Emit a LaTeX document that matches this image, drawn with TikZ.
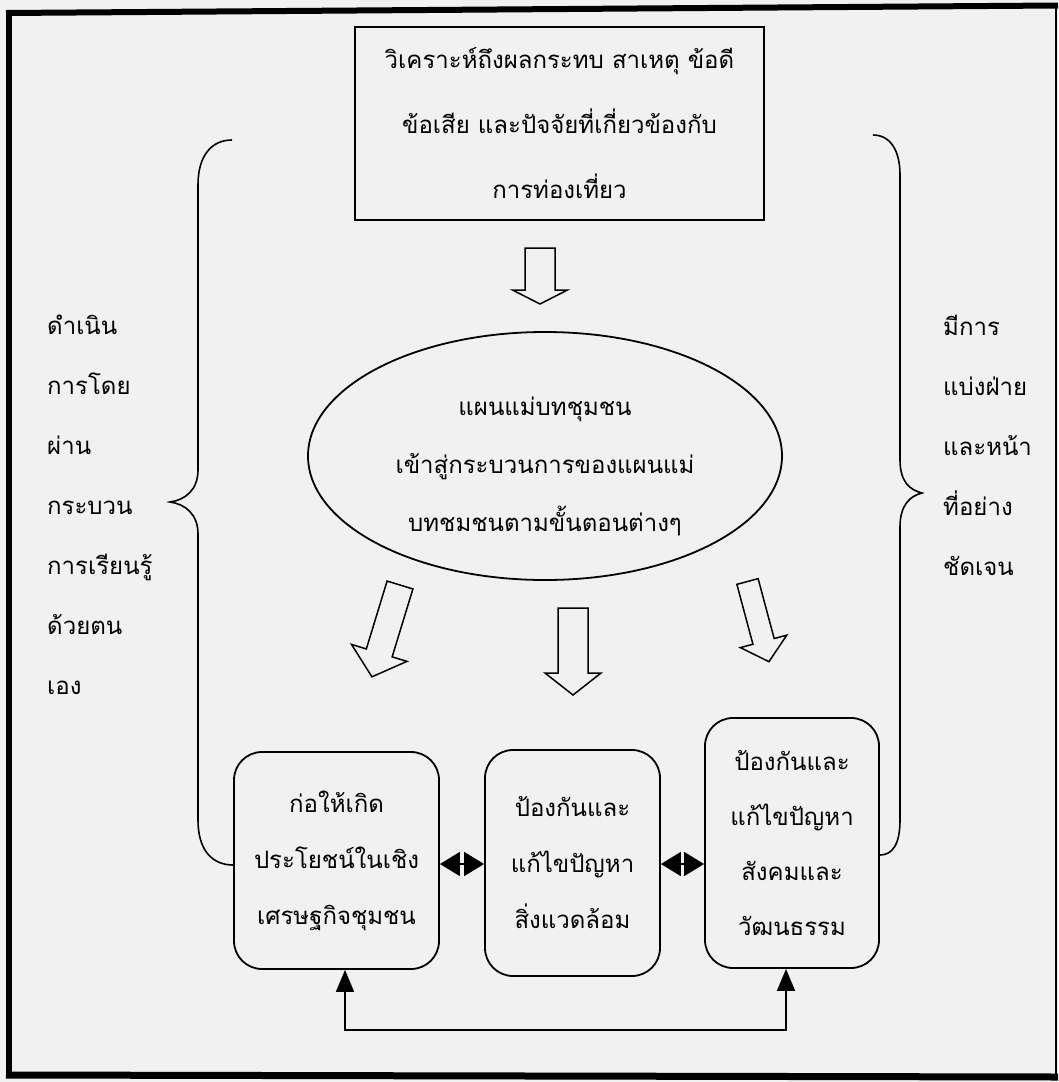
\documentclass[tikz,border=0pt]{standalone}
\usepackage{fontspec}
\newfontfamily\thaifont[Script=Thai]{Loma}
\usetikzlibrary{arrows.meta,shapes.geometric}
\definecolor{bgc}{RGB}{241,241,241}
\begin{document}
\begin{tikzpicture}[x=1pt,y=-1pt,
  box/.style={draw,line width=1.8pt,align=center,inner sep=0pt},
  tf/.style={font=\thaifont\fontsize{24}{#1}\selectfont},
  hollow/.style={draw,line width=1.5pt,line join=miter,fill=bgc},
  brace/.style={draw,line width=1.6pt},
  dbl/.style={line width=1.6pt,{Triangle[width=24pt,length=20pt]}-{Triangle[width=24pt,length=20pt]}},
  feedback/.style={line width=1.8pt,{Triangle[width=18pt,length=22pt]}-{Triangle[width=18pt,length=22pt]}}]
\useasboundingbox (0,0) rectangle (1058,1082);
\fill[bgc] (0,0) rectangle (1058,1082);
% frame
\draw[line width=6pt] (9,1078) -- (9,10);
\draw[line width=6pt] (6,13) -- (1058,5.5);
\draw[line width=2pt] (1056,6) -- (1056,1076);
\draw[line width=7pt] (6,1075) -- (1058,1077);
% top box
\node[box,tf=65,minimum width=409pt,minimum height=193pt] (top) at (559.5,123.5)
  {วิเคราะห์ถึงผลกระทบ สาเหตุ ข้อดี\\ข้อเสีย และปัจจัยที่เกี่ยวข้องกับ\\การท่องเที่ยว};
% ellipse
\node[draw,ellipse,line width=1.8pt,minimum width=474pt,minimum height=248pt,inner sep=0pt] (el) at (545,456) {};
\node[tf=58,align=center] (elt) at (545,466)
  {แผนแม่บทชุมชน\\เข้าสู่กระบวนการของแผนแม่\\บทชมชนตามขั้นตอนต่างๆ};
% bottom boxes
\node[box,tf=56,rounded corners=28pt,minimum width=205pt,minimum height=217pt] (b1) at (336.5,860.5)
  {ก่อให้เกิด\\ประโยชน์ในเชิง\\เศรษฐกิจชุมชน};
\node[box,tf=56,rounded corners=28pt,minimum width=175pt,minimum height=226pt] (b2) at (572.5,863)
  {ป้องกันและ\\แก้ไขปัญหา\\สิ่งแวดล้อม};
\node[box,tf=55,rounded corners=28pt,minimum width=174pt,minimum height=250pt] (b3) at (792,843)
  {ป้องกันและ\\แก้ไขปัญหา\\สังคมและ\\วัฒนธรรม};
% side texts
\node[tf=60,align=left,anchor=west,inner sep=0pt] (lt) at (47,505)
  {ดำเนิน\\การโดย\\ผ่าน\\กระบวน\\การเรียนรู้\\ด้วยตน\\เอง};
\node[tf=60,align=left,anchor=west,inner sep=0pt] (rt) at (943,445)
  {มีการ\\แบ่งฝ่าย\\และหน้า\\ที่อย่าง\\ชัดเจน};
% hollow arrows
\draw[hollow,shift={(540,248)}] (-15,0) -- (-15,42) -- (-27.5,42) -- (0,56) -- (27.5,42) -- (15,42) -- (15,0) -- cycle;
\draw[hollow,shift={(573,608)}] (-15,0) -- (-15,65) -- (-28,65) -- (0,87) -- (28,65) -- (15,65) -- (15,0) -- cycle;
\draw[hollow,shift={(400,585)},rotate=-17] (-13.5,0) -- (-13.5,71) -- (-29,71) -- (0,96) -- (29,71) -- (13.5,71) -- (13.5,0) -- cycle;
\draw[hollow,shift={(747.5,581.5)},rotate=15] (-11,0) -- (-11,62) -- (-24,62) -- (0,83) -- (24,62) -- (11,62) -- (11,0) -- cycle;
% braces
\coordinate (lb) at (0,865);
\coordinate (rb) at (0,855);
\draw[brace] (232,140) .. controls (212,140) and (198,155) .. (198,185) -- (198,470)
  .. controls (198,490) and (185,500) .. (170,502)
  .. controls (185,504) and (198,514) .. (198,534) -- (198,820)
  .. controls (198,850) and (212,865) .. (b1.west |- lb);
\draw[brace] (873,135) .. controls (890,135) and (900,150) .. (900,175) -- (900,460)
  .. controls (900,482) and (910,490) .. (922,493)
  .. controls (910,496) and (900,505) .. (900,527) -- (900,820)
  .. controls (900,845) and (892,855) .. (b3.east |- rb);
% double arrows between boxes
\coordinate (da) at (0,864);
\draw[dbl] (b1.east |- da) -- (b2.west |- da);
\draw[dbl] (b2.east |- da) -- (b3.west |- da);
% feedback
\coordinate (f1) at (345,1030);
\coordinate (f3) at (786,1030);
\draw[feedback] (b1.south -| f1) -- (f1) -- (f3) -- (b3.south -| f3);
\end{tikzpicture}
\end{document}
